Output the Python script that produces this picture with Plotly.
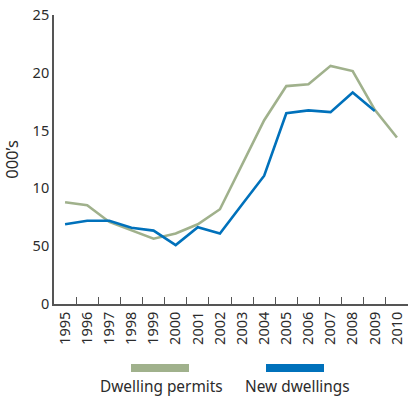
import plotly.graph_objects as go

years = [str(y) for y in range(1995, 2011)]
dwelling_permits = [8.8, 8.55, 7.1, 6.4, 5.65, 6.1, 6.9, 8.2, 12.0, 15.9, 18.85, 19.0, 20.6, 20.15, 16.8, 14.4]
new_dwellings = [6.9, 7.2, 7.2, 6.6, 6.35, 5.1, 6.65, 6.1, 8.6, 11.1, 16.5, 16.75, 16.6, 18.3, 16.7, None]
y_tickvals = [0, 5, 10, 15, 20, 25]
y_ticktext = ["0", "50", "10", "15", "20", "25"]
series_names = ["Dwelling permits", "New dwellings"]
colors = ["#a0b18c", "#0071bb"]

W, H = 408, 399
L, R, T, B = 54, 0, 15, 95
pw, ph = W - L - R, H - T - B

def px(x):
    return (x - L) / pw

def py(y):
    return (H - B - y) / ph

FONT = "Noto Sans"
TXT = "#2b2b2b"
AX = "#555555"

fig = go.Figure()
fig.add_trace(go.Scatter(x=years, y=dwelling_permits, mode="lines", name=series_names[0],
                         line=dict(color=colors[0], width=2.6), showlegend=False))
fig.add_trace(go.Scatter(x=years, y=new_dwellings, mode="lines", name=series_names[1],
                         line=dict(color=colors[1], width=2.6), showlegend=False))

# legend drawn manually: swatch above text
legend_items = [(131, 189, 161.5), (266, 324, 297.5)]
for (x0, x1, tx), name, c in zip(legend_items, series_names, colors):
    fig.add_shape(type="rect", xref="paper", yref="paper",
                  x0=px(x0), x1=px(x1), y0=py(372), y1=py(364),
                  fillcolor=c, line=dict(width=0))
    fig.add_annotation(xref="paper", yref="paper", x=px(tx), y=py(386), text=name,
                       showarrow=False, xanchor="center", yanchor="middle",
                       font=dict(family=FONT, size=15.4, color=TXT))

fig.update_layout(
    width=W, height=H,
    margin=dict(l=L, r=R, t=T, b=B),
    paper_bgcolor="white", plot_bgcolor="white",
    font=dict(family=FONT, size=14, color=TXT),
    xaxis=dict(type="category", range=[-0.5, 15.5], tickson="boundaries",
               ticks="inside", ticklen=7, tickwidth=1.3, tickcolor=AX,
               showline=True, linecolor=AX, linewidth=1.8,
               showgrid=False, zeroline=False, tickangle=-90,
               tickfont=dict(family=FONT, size=14.5, color=TXT)),
    yaxis=dict(range=[0, 25], tickvals=y_tickvals, ticktext=y_ticktext,
               ticks="", showline=True, linecolor=AX, linewidth=1.8,
               showgrid=False, zeroline=False,
               tickfont=dict(family=FONT, size=14.5, color=TXT),
               title=dict(text="000’s", font=dict(family=FONT, size=16.5, color=TXT), standoff=10)),
)

fig.write_html("out.html")
